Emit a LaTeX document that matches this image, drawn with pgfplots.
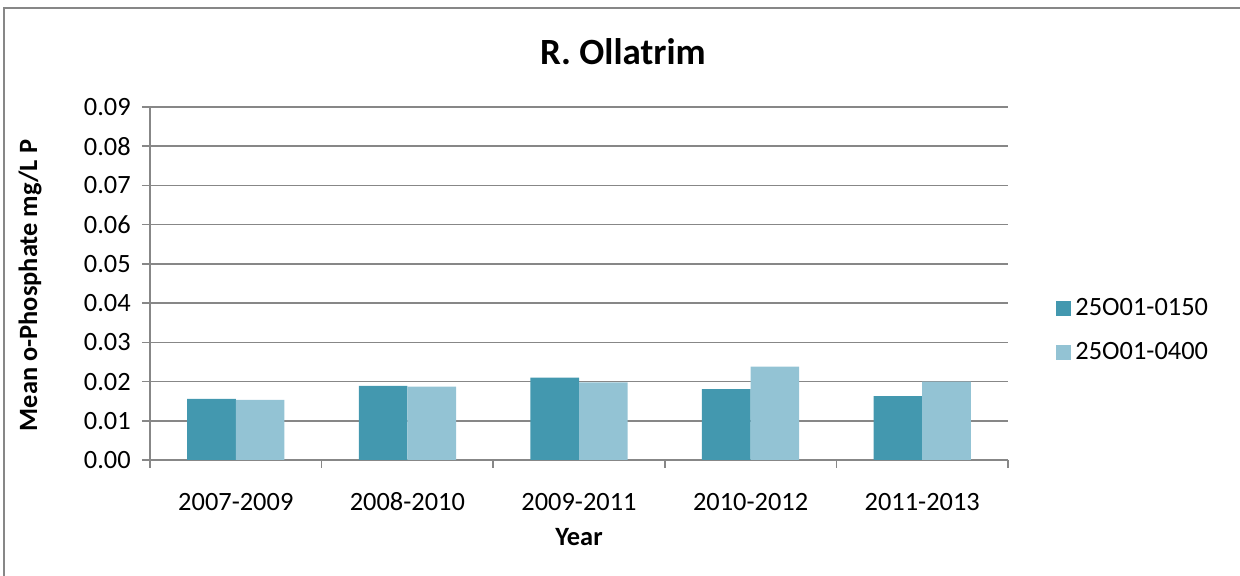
\documentclass[border=0pt]{standalone}
\usepackage{fontspec}
\setmainfont{Carlito}
\usepackage{pgfplots}
\pgfplotsset{compat=1.18}

\definecolor{darkbar}{HTML}{4398AF}
\definecolor{lightbar}{HTML}{93C3D4}
\definecolor{gridgray}{HTML}{878787}

\begin{document}
\begin{tikzpicture}
% page frame: 1240x576 px at 0.5pt per px
\useasboundingbox (-75pt,-58pt) rectangle (545pt,230pt);
\draw[gridgray, line width=1pt] (-73pt,-58pt) -- (-73pt,226pt) -- (545pt,226pt);
\node[font=\fontsize{18.5}{22}\selectfont\bfseries] at (236.5pt,204pt) {R. Ollatrim};

\begin{axis}[
    at={(0pt,0pt)}, anchor=south west,
    scale only axis,
    width=429pt, height=176.5pt,
    ybar,
    bar width=0.2835,
    xmin=-0.5, xmax=4.5,
    ymin=0, ymax=0.09,
    xtick={-0.5,0.5,1.5,2.5,3.5,4.5},
    x tick label as interval,
    xticklabels={2007-2009,2008-2010,2009-2011,2010-2012,2011-2013},
    ytick={0,0.01,...,0.09},
    scaled y ticks=false,
    yticklabel style={/pgf/number format/fixed, /pgf/number format/fixed zerofill, /pgf/number format/precision=2},
    /pgf/number format/assume math mode=true,
    axis x line*=bottom,
    axis y line*=left,
    axis line style={gridgray, line width=0.75pt, -},
    tick style={gridgray, line width=0.75pt},
    tick align=outside,
    major tick length=4pt,
    ymajorgrids,
    grid style={gridgray, line width=0.75pt},
    tick label style={font=\fontsize{13.2}{15}\selectfont},
    xticklabel style={anchor=base, yshift=-21.5pt},
    yticklabel style={anchor=east, xshift=-2.1pt},
    xlabel={Year},
    ylabel={Mean o-Phosphate mg/L P},
    label style={font=\fontsize{13.2}{15}\selectfont\bfseries},
    xlabel style={at={(rel axis cs:0.5,0)}, anchor=center, yshift=-38.5pt},
    ylabel style={at={(rel axis cs:0,0.5)}, anchor=center, xshift=-1pt, yshift=60pt},
    legend style={at={(1.049,0.367)}, anchor=west, draw=none, fill=none,
        font=\fontsize{13.2}{15}\selectfont, row sep=7.5pt},
    legend cell align=left,
    legend image code/.code={\fill[#1] (0pt,-3.75pt) rectangle (7.5pt,3.75pt);},
]
\addplot[fill=darkbar, draw=none, bar shift=-0.14175] coordinates {
    (0,0.0156) (1,0.0189) (2,0.0210) (3,0.0181) (4,0.0163)
};
\addlegendentry{25O01-0150}
\addplot[fill=lightbar, draw=none, bar shift=0.14175] coordinates {
    (0,0.0153) (1,0.0187) (2,0.0198) (3,0.0238) (4,0.0200)
};
\addlegendentry{25O01-0400}
\end{axis}
\end{tikzpicture}
\end{document}
